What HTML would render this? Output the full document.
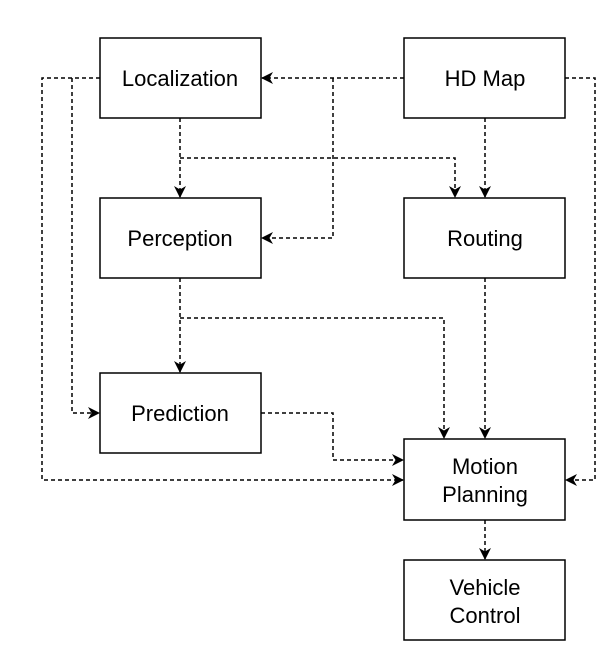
<!DOCTYPE html>
<html><head><style>body{margin:0;background:#fff}</style></head><body>
<svg width="610" height="649" xmlns="http://www.w3.org/2000/svg" font-family="Liberation Sans, sans-serif" font-size="22">
<defs><marker id="a" viewBox="0 0 12 12" refX="11" refY="6" markerWidth="12" markerHeight="12" markerUnits="userSpaceOnUse" orient="auto"><path d="M0,0 L12,6 L0,12 L3.5,6 z" fill="#000"/></marker></defs>
<g fill="none" stroke="#000" stroke-width="1.5" stroke-dasharray="4,3" marker-end="url(#a)">
<path d="M100,78 H42 V480 H403"/>
<path d="M72,78 V413 H99"/>
<path d="M180,118 V197"/>
<path d="M180,158 H455 V197"/>
<path d="M404,78 H262"/>
<path d="M333,78 V238 H262"/>
<path d="M485,118 V197"/>
<path d="M565,78 H595 V480 H566"/>
<path d="M180,278 V372"/>
<path d="M180,318 H444 V438"/>
<path d="M485,278 V438"/>
<path d="M261,413 H333 V460 H403"/>
<path d="M485,520 V559"/>
</g>
<g fill="#fff" stroke="#000" stroke-width="1.5">
<rect x="100" y="38" width="161" height="80"/>
<rect x="404" y="38" width="161" height="80"/>
<rect x="100" y="198" width="161" height="80"/>
<rect x="404" y="198" width="161" height="80"/>
<rect x="100" y="373" width="161" height="80"/>
<rect x="404" y="439" width="161" height="81"/>
<rect x="404" y="560" width="161" height="80"/>
</g>
<g text-anchor="middle" fill="#000">
<text x="180" y="86">Localization</text>
<text x="485" y="86">HD Map</text>
<text x="180" y="246">Perception</text>
<text x="485" y="246">Routing</text>
<text x="180" y="421">Prediction</text>
<text x="485" y="474">Motion</text>
<text x="485" y="502">Planning</text>
<text x="485" y="595">Vehicle</text>
<text x="485" y="623">Control</text>
</g>
</svg>
</body></html>
